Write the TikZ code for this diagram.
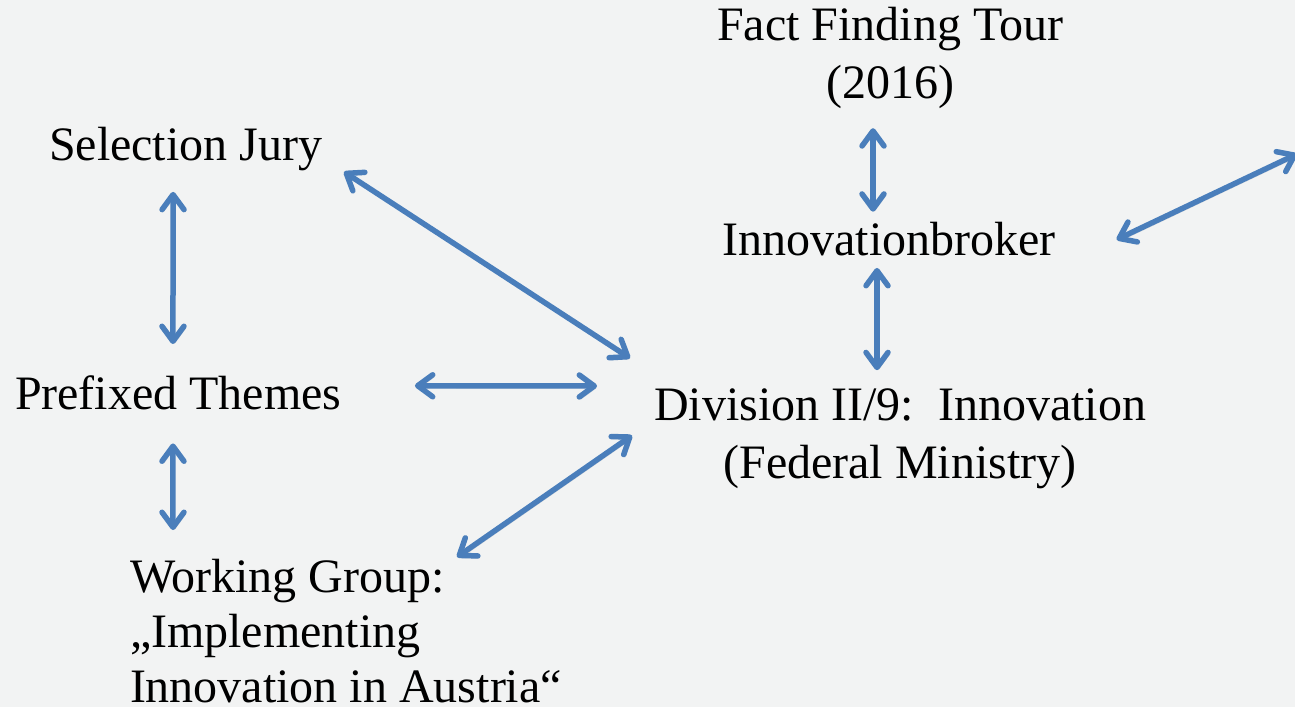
\documentclass[tikz,border=0pt]{standalone}
\usepackage{fontspec}
\setmainfont{Liberation Serif}
\usetikzlibrary{arrows.meta,calc}
\definecolor{bg}{RGB}{242,243,243}
\definecolor{arrblue}{RGB}{74,126,187}
\tikzset{
  lbl/.style={inner sep=0pt, outer sep=0pt, font=\fontsize{48}{58}\selectfont, text=black},
  arr/.style={draw=arrblue, line width=5.5pt,
    {Straight Barb[length=15pt,width=22pt,round]}-{Straight Barb[length=15pt,width=22pt,round]},
    preaction={draw=black, opacity=0.10, transform canvas={shift={(1.5pt,-2.5pt)}}}}
}
\begin{document}
\begin{tikzpicture}[x=1pt,y=-1pt]
\fill[bg] (0,0) rectangle (1295,707);
\useasboundingbox (0,0) rectangle (1295,707);

\node[lbl, align=center, anchor=north] (fact) at (890,6.7) {Fact Finding Tour\\(2016)};
\node[lbl, anchor=base] (broker) at (889,255) {Innovationbroker};
\node[lbl, align=center, anchor=north] (div) at (900,388.7) {Division II/9:\ \ Innovation\\(Federal Ministry)};
\node[lbl, anchor=base west] (jury) at (49,160) {Selection Jury};
\node[lbl, anchor=base west] (themes) at (15,409) {Prefixed Themes};
\node[lbl, align=left, anchor=north west, font=\fontsize{48}{55}\selectfont] (wg) at (130,559.2) {Working Group:\\„Implementing\\Innovation in Austria“};
\coordinate (offright) at (1297,154);

\draw[arr] ($(fact.south)+(-17,20)$) -- ($(broker.north)+(-16,-10)$);
\draw[arr] ($(broker.south)+(-12,12.5)$) -- ($(div.north)+(-23,-18.5)$);
\draw[arr] ($(broker.east)+(61,1)$) -- (offright);
\draw[arr] ($(jury.south east)+(21.7,1.5)$) -- ($(div.north west)+(-24,-30.5)$);
\draw[arr] ($(jury.south)+(-12.6,21.5)$) -- ($(themes.north)+(-5.3,-31.2)$);
\draw[arr] ($(themes.east)+(73.4,-6.6)$) -- ($(div.north west)+(-57,-2.7)$);
\draw[arr] ($(themes.south)+(-5.3,34)$) -- ($(wg.north west)+(43,-29.2)$);
\draw[arr] ($(div.west)+(-22,-3.3)$) -- ($(wg.north west)+(327,-2.2)$);
\end{tikzpicture}
\end{document}
